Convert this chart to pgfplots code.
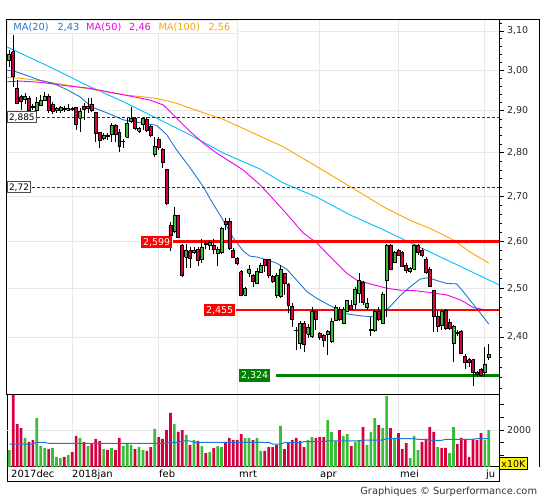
\documentclass[border=0pt]{standalone}
\usepackage{fontspec}
\setmainfont{DejaVu Sans}
\usepackage{pgfplots}
\usepackage{pgfplotstable}
\pgfplotsset{compat=1.18}
\definecolor{cgreen}{RGB}{56,189,56}
\definecolor{cred}{RGB}{214,0,64}
\definecolor{maA}{RGB}{30,120,210}
\definecolor{maB}{RGB}{240,0,240}
\definecolor{maC}{RGB}{255,165,0}
\definecolor{maD}{RGB}{0,191,255}
\definecolor{gridgray}{RGB}{232,232,232}
\definecolor{lvred}{RGB}{255,0,0}
\definecolor{lvgreen}{RGB}{0,128,0}
\newcommand\f[1]{\fontsize{#1}{#1}\selectfont}

\pgfplotstableread{
i O H L C
0 3.024 3.051 3.009 3.041
1 3.047 3.090 2.957 2.985
2 2.956 2.975 2.916 2.918
3 2.934 2.938 2.902 2.922
4 2.927 2.944 2.916 2.936
5 2.930 2.936 2.894 2.900
6 2.912 2.916 2.902 2.908
7 2.902 2.934 2.898 2.920
8 2.914 2.938 2.912 2.926
9 2.926 2.946 2.924 2.936
10 2.936 2.940 2.894 2.900
11 2.915 2.922 2.892 2.898
12 2.900 2.910 2.894 2.906
13 2.900 2.912 2.895 2.908
14 2.905 2.912 2.897 2.904
15 2.902 2.916 2.900 2.905
16 2.905 2.908 2.900 2.903
17 2.908 2.910 2.854 2.868
18 2.882 2.906 2.850 2.898
19 2.912 2.918 2.878 2.904
20 2.906 2.930 2.894 2.912
21 2.915 2.930 2.898 2.902
22 2.897 2.898 2.826 2.846
23 2.848 2.850 2.812 2.830
24 2.834 2.846 2.830 2.842
25 2.842 2.846 2.830 2.838
26 2.844 2.870 2.826 2.864
27 2.864 2.868 2.826 2.844
28 2.848 2.855 2.801 2.815
29 2.826 2.832 2.811 2.827
30 2.836 2.882 2.836 2.870
31 2.874 2.910 2.870 2.882
32 2.882 2.886 2.854 2.858
33 2.851 2.862 2.846 2.857
34 2.868 2.886 2.854 2.881
35 2.880 2.886 2.850 2.854
36 2.862 2.866 2.836 2.840
37 2.796 2.838 2.791 2.815
38 2.832 2.838 2.806 2.813
39 2.808 2.811 2.765 2.777
40 2.761 2.763 2.680 2.683
41 2.634 2.643 2.579 2.612
42 2.621 2.676 2.618 2.658
43 2.657 2.658 2.607 2.608
44 2.592 2.595 2.524 2.528
45 2.565 2.595 2.543 2.580
46 2.580 2.588 2.543 2.563
47 2.575 2.588 2.572 2.580
48 2.583 2.588 2.547 2.558
49 2.560 2.606 2.553 2.588
50 2.596 2.600 2.583 2.594
51 2.592 2.603 2.581 2.597
52 2.592 2.606 2.572 2.582
53 2.574 2.588 2.547 2.583
54 2.576 2.632 2.572 2.629
55 2.643 2.652 2.625 2.636
56 2.643 2.652 2.581 2.585
57 2.581 2.585 2.563 2.565
58 2.563 2.567 2.549 2.553
59 2.535 2.539 2.483 2.486
60 2.486 2.503 2.483 2.500
61 2.531 2.549 2.524 2.539
62 2.528 2.530 2.503 2.514
63 2.510 2.543 2.509 2.535
64 2.533 2.553 2.531 2.549
65 2.560 2.562 2.535 2.549
66 2.560 2.562 2.521 2.528
67 2.524 2.528 2.510 2.514
68 2.486 2.531 2.480 2.528
69 2.483 2.549 2.480 2.540
70 2.531 2.533 2.486 2.510
71 2.509 2.510 2.448 2.465
72 2.463 2.469 2.421 2.435
73 2.414 2.421 2.374 2.413
74 2.387 2.432 2.377 2.427
75 2.428 2.432 2.371 2.386
76 2.406 2.426 2.399 2.420
77 2.401 2.462 2.399 2.452
78 2.452 2.454 2.414 2.435
79 2.408 2.410 2.394 2.399
80 2.404 2.406 2.381 2.393
81 2.406 2.414 2.365 2.411
82 2.391 2.438 2.389 2.432
83 2.433 2.465 2.432 2.460
84 2.456 2.460 2.432 2.435
85 2.427 2.460 2.426 2.456
86 2.453 2.476 2.452 2.474
87 2.465 2.476 2.454 2.456
88 2.466 2.503 2.456 2.498
89 2.489 2.531 2.469 2.517
90 2.512 2.516 2.465 2.470
91 2.460 2.479 2.455 2.469
92 2.413 2.441 2.401 2.416
93 2.414 2.455 2.411 2.452
94 2.453 2.460 2.432 2.435
95 2.428 2.492 2.427 2.488
96 2.516 2.594 2.441 2.592
97 2.592 2.594 2.539 2.540
98 2.555 2.578 2.553 2.576
99 2.580 2.583 2.569 2.570
100 2.575 2.578 2.545 2.547
101 2.549 2.553 2.533 2.537
102 2.535 2.545 2.533 2.542
103 2.540 2.594 2.539 2.592
104 2.592 2.594 2.571 2.575
105 2.581 2.585 2.566 2.569
106 2.560 2.565 2.530 2.533
107 2.540 2.545 2.502 2.503
108 2.496 2.497 2.411 2.441
109 2.442 2.453 2.411 2.421
110 2.424 2.455 2.414 2.452
111 2.455 2.456 2.414 2.418
112 2.429 2.437 2.414 2.418
113 2.387 2.424 2.350 2.422
114 2.410 2.414 2.402 2.407
115 2.412 2.414 2.366 2.367
116 2.362 2.366 2.336 2.349
117 2.355 2.359 2.341 2.349
118 2.355 2.357 2.304 2.330
119 2.331 2.333 2.321 2.327
120 2.335 2.338 2.321 2.325
121 2.330 2.380 2.321 2.345
122 2.359 2.387 2.355 2.365
}\candles

\pgfplotstableread{
i v
1 3389
2 2238
3 2079
5 1524
6 1603
10 1246
14 929
16 1127
17 1762
19 1524
21 1472
22 1643
23 1564
25 1206
27 1206
28 1683
32 1246
35 1167
36 1325
38 1722
39 1643
40 2000
41 2675
43 1921
44 2000
46 1405
48 1564
50 1087
52 1286
55 1524
56 1683
57 1603
58 1603
59 1841
62 1603
65 1167
66 1325
67 1325
68 1405
70 1246
71 1484
72 1603
73 1683
74 1564
75 1325
78 1683
79 1722
80 1722
84 2000
87 1365
90 2119
94 2198
97 2079
99 1881
100 1246
101 1484
105 1524
106 1643
107 2119
108 1921
110 1286
111 1286
114 1444
115 1683
116 1643
117 929
118 1643
119 1603
120 1881
}\volred

\pgfplotstableread{
i v
0 1206
4 1683
7 2476
8 1365
9 1286
11 1286
12 929
13 889
15 1008
18 1683
20 1365
24 1246
26 1286
29 1365
30 1484
31 1405
33 1325
34 1206
37 2040
42 2238
45 1802
47 1603
49 1365
51 1127
53 1365
54 1325
60 1683
61 1683
63 1683
64 1167
69 2159
76 1603
77 1722
81 2397
82 1921
83 1564
85 1762
86 1841
88 1524
89 1603
91 1405
92 1921
93 2476
95 2079
96 3349
98 1683
102 889
103 1762
104 1206
109 1325
112 1087
113 2119
121 1603
122 2000
}\volgreen

\begin{document}
\begin{tikzpicture}[x=1bp,y=1bp]
\path[use as bounding box] (0,0) rectangle (545,500);

% ---------------- price panel (log price scale via coordinate transform) ----------------
\begin{axis}[
  at={(7bp,105bp)}, anchor=south west,
  width=492bp, height=375.5bp, scale only axis,
  xmin=-0.585, xmax=124.6,
  y coord trafo/.code={\pgfmathparse{ln(#1)}},
  y coord inv trafo/.code={\pgfmathparse{exp(#1)}},
  ymin=2.2864, ymax=3.13,
  axis line style={black, line width=1bp},
  xtick={16,38,58,79,99,121}, xticklabels={}, xtick style={draw=none},
  ytick={2.4,2.5,2.6,2.7,2.8,2.9,3.0,3.1},
  yticklabels={{2,40},{2,50},{2,60},{2,70},{2,80},{2,90},{3,00},{3,10}},
  minor ytick={2.30,2.32,2.34,2.36,2.38,2.42,2.44,2.46,2.48,2.52,2.54,2.56,2.58,2.62,2.64,2.66,2.68,2.72,2.74,2.76,2.78,2.82,2.84,2.86,2.88,2.92,2.94,2.96,2.98,3.02,3.04,3.06,3.08,3.12},
  ytick pos=right, yticklabel pos=right,
  tick align=outside, major tick length=4.5bp, minor tick length=3bp,
  ytick style={black, line width=0.8bp},
  yticklabel style={font=\f{9.5}, text=black!85},
  xmajorgrids, ymajorgrids,
  major grid style={draw=gridgray, line width=1bp},
]
% moving averages
\addplot[maD, line width=0.9bp] coordinates {(-0.59,3.059)(10.4,3.008)(20.5,2.959)(29.0,2.922)(37.5,2.882)(46.0,2.842)(54.5,2.799)(63.8,2.762)(69.7,2.730)(78.2,2.698)(86.7,2.658)(95.2,2.625)(102.0,2.597)(113.0,2.553)(124.6,2.507)};
\addplot[maC, line width=0.9bp] coordinates {(-0.59,2.982)(2.7,2.980)(7.8,2.974)(14.6,2.963)(20.5,2.953)(29.0,2.939)(37.5,2.930)(42.6,2.918)(48.5,2.898)(54.5,2.879)(61.2,2.850)(69.7,2.814)(78.2,2.768)(86.7,2.722)(95.2,2.676)(102.0,2.646)(107.1,2.628)(113.0,2.603)(117.2,2.577)(122,2.553)};
\addplot[maB, line width=0.9bp] coordinates {(-0.59,2.971)(2.72,2.973)(7.81,2.970)(14.6,2.961)(20.5,2.955)(29.0,2.939)(35.8,2.926)(39.2,2.914)(42.6,2.882)(46.0,2.850)(49.4,2.822)(52.8,2.799)(56.2,2.779)(59.5,2.760)(63.8,2.726)(69.7,2.669)(74.8,2.618)(78.2,2.597)(81.6,2.567)(85.9,2.531)(88.4,2.517)(91.8,2.509)(96.0,2.500)(99.4,2.496)(102.8,2.495)(107.1,2.491)(111.3,2.486)(114.7,2.476)(118.1,2.460)(121.1,2.455)(122,2.455)};
\addplot[maA, line width=0.9bp] coordinates {(-0.59,3.000)(1.45,2.997)(3.56,2.990)(7.81,2.975)(11.2,2.967)(14.6,2.952)(18.0,2.934)(21.0,2.909)(25.6,2.892)(29.0,2.878)(33.3,2.871)(37.5,2.865)(40.1,2.842)(42.6,2.806)(46.0,2.765)(49.4,2.721)(51.1,2.694)(54.5,2.645)(57.0,2.607)(59.5,2.579)(61.2,2.568)(63.0,2.566)(65.5,2.560)(68.0,2.553)(70.6,2.540)(73.1,2.517)(75.7,2.493)(78.2,2.479)(81.6,2.464)(85.9,2.447)(89.2,2.443)(92.6,2.441)(94.8,2.447)(96.9,2.462)(99.4,2.484)(102.0,2.503)(104.5,2.519)(106.6,2.522)(108.8,2.516)(111.3,2.510)(113.8,2.509)(115.5,2.493)(118.1,2.466)(120.6,2.441)(122,2.426)};
% levels
\addplot[black!80, line width=0.8bp, dash pattern=on 3bp off 2bp] coordinates {(7.1,2.885)(124.6,2.885)};
\addplot[black!80, line width=0.8bp, dash pattern=on 3bp off 2bp] coordinates {(5.7,2.72)(124.6,2.72)};
\addplot[lvred, line width=2.8bp] coordinates {(41.6,2.599)(124.6,2.599)};
\addplot[lvred, line width=1.4bp] coordinates {(57.6,2.455)(124.6,2.455)};
\addplot[lvgreen, line width=2.8bp] coordinates {(67.9,2.324)(124.6,2.324)};
% candles
\pgfplotsinvokeforeach{0,...,122}{%
  \pgfplotstablegetelem{#1}{O}\of\candles\let\cO\pgfplotsretval
  \pgfplotstablegetelem{#1}{H}\of\candles\let\cH\pgfplotsretval
  \pgfplotstablegetelem{#1}{L}\of\candles\let\cL\pgfplotsretval
  \pgfplotstablegetelem{#1}{C}\of\candles\let\cC\pgfplotsretval
  \pgfmathsetmacro\xa{#1-0.38}%
  \pgfmathsetmacro\xb{#1+0.38}%
  \pgfmathtruncatemacro\up{\cC>=\cO}%
  \ifnum\up=1 \def\ccol{cgreen}\else\def\ccol{cred}\fi
  \edef\doplot{%
    \noexpand\addplot[forget plot, draw=black, line width=0.8bp] coordinates {(#1,\cL) (#1,\cH)};%
    \noexpand\addplot[forget plot, draw=black, fill=\ccol, line width=0.7bp] coordinates {(\xa,\cO) (\xb,\cO) (\xb,\cC) (\xa,\cC) (\xa,\cO)};%
  }\doplot
}
% level labels
\node[anchor=west, draw=black!70, line width=1bp, fill=white, font=\f{9}, inner xsep=1.5bp, inner ysep=0pt, minimum height=11bp, text height=6.6bp, text depth=0pt] at (axis cs:-0.585,2.885) {2,885};
\node[anchor=west, draw=black!70, line width=1bp, fill=white, font=\f{9}, inner xsep=1.5bp, inner ysep=0pt, minimum height=11bp, text height=6.6bp, text depth=0pt] at (axis cs:-0.585,2.72) {2,72};
\node[anchor=west, fill=lvred, text=white, font=\f{9.5}, inner xsep=2bp, inner ysep=0pt, minimum height=12.5bp, text height=6.8bp, text depth=0pt] at (axis cs:33.5,2.599) {2,599};
\node[anchor=west, fill=lvred, text=white, font=\f{9.5}, inner xsep=2bp, inner ysep=0pt, minimum height=12bp, text height=6.8bp, text depth=0pt] at (axis cs:49.5,2.455) {2,455};
\node[anchor=west, fill=lvgreen, text=white, font=\f{9.5}, inner xsep=2bp, inner ysep=0pt, minimum height=12.5bp, text height=6.8bp, text depth=0pt] at (axis cs:58.4,2.324) {2,324};
\end{axis}

% ---------------- volume panel ----------------
\begin{axis}[
  at={(7bp,33bp)}, anchor=south west,
  width=492bp, height=72bp, scale only axis,
  xmin=-0.585, xmax=124.6,
  ymin=532, ymax=3389,
  axis line style={black, line width=1bp},
  xtick={16,38,58,79,99,121}, xticklabels={}, xtick style={draw=none},
  ytick={1000,1500,2000,2500,3000},
  yticklabels={,,2000,,},
  ytick pos=right, yticklabel pos=right,
  tick align=outside, major tick length=4.5bp,
  ytick style={black, line width=0.8bp},
  yticklabel style={font=\f{9.5}, text=black!85},
  xmajorgrids,
  major grid style={draw=gridgray, line width=1bp},
]
\addplot[gridgray, line width=1bp] coordinates {(-1,2000)(126,2000)};
\addplot[ybar, bar width=2.7bp, bar shift=0pt, fill=cred, draw=none] table[x=i, y=v] {\volred};
\addplot[ybar, bar width=2.7bp, bar shift=0pt, fill=cgreen, draw=none] table[x=i, y=v] {\volgreen};
\addplot[maA, line width=1bp] coordinates {(0,1444)(6,1444)(7,1512)(9,1512)(10,1472)(40,1472)(41,1512)(43,1512)(44,1564)(46,1564)(47,1512)(66,1512)(67,1444)(69,1444)(70,1496)(74,1496)(75,1536)(80,1536)(81,1564)(89,1564)(90,1603)(95,1603)(96,1655)(103,1655)(104,1631)(106,1631)(107,1591)(110,1591)(111,1631)(118,1631)(119,1655)(122,1655)};
\end{axis}

% ---------------- frames and texts ----------------
\draw[gridgray, fill=white, line width=0.8bp] (7.5,467) rectangle (237,480);
\draw[black, line width=1bp] (7,480.5) -- (539,480.5) -- (539,33);
\draw[black, line width=1bp] (7,33) -- (7,18) -- (499,18) -- (499,33);

\node[anchor=base west, inner sep=0, font=\f{9.8}, text=maA] at (13.3,469.3) {MA(20)};
\node[anchor=base west, inner sep=0, font=\f{9.8}, text=maA] at (57.3,469.3) {2,43};
\node[anchor=base west, inner sep=0, font=\f{9.8}, text=maB] at (86,469.3) {MA(50)};
\node[anchor=base west, inner sep=0, font=\f{9.8}, text=maB] at (129,469.3) {2,46};
\node[anchor=base west, inner sep=0, font=\f{9.8}, text=maC] at (158.3,469.3) {MA(100)};
\node[anchor=base west, inner sep=0, font=\f{9.8}, text=maC] at (208.3,469.3) {2,56};

\foreach \xx/\tt in {11/2017dec, 72/2018jan, 159/feb, 239/mrt, 320/apr, 400/mei, 486/ju}
  \node[anchor=base west, inner sep=0, font=\f{10}] at (\xx,22.7) {\tt};

\node[anchor=south west, draw=black, line width=0.8bp, fill=yellow, font=\f{9.5}, inner sep=0, minimum width=27.4bp, minimum height=11.7bp] at (499.3,30) {x10K};

\node[anchor=base east, inner sep=0, font=\f{9.9}, text=black!80] at (537.3,5) {Graphiques © Surperformance.com};
\end{tikzpicture}
\end{document}
